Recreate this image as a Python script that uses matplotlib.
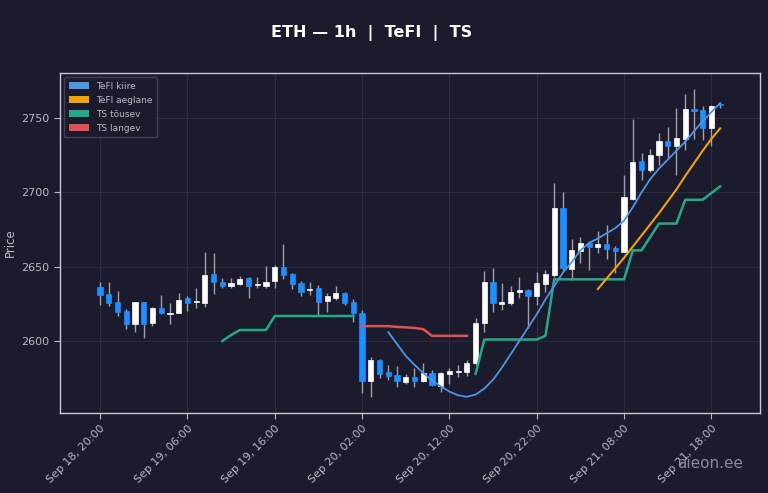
import numpy as np
import matplotlib

matplotlib.use("Agg")
import matplotlib.pyplot as plt
from matplotlib.patches import Patch, Rectangle

# ---------- data: 1h candles, starting Sep 18 20:00 ----------
hour_labels = ["Sep 18, 20:00", "Sep 19, 06:00", "Sep 19, 16:00", "Sep 20, 02:00",
               "Sep 20, 12:00", "Sep 20, 22:00", "Sep 21, 08:00", "Sep 21, 18:00"]
label_idx = [0, 10, 20, 30, 40, 50, 60, 70]

opens = [2636.5, 2631.6, 2626.4, 2620.2, 2611.2, 2626.0, 2611.9, 2622.4, 2618.5, 2619.0,
         2628.7, 2626.0, 2625.8, 2644.9, 2639.9, 2637.0, 2638.4, 2642.2, 2637.5, 2637.2,
         2640.4, 2649.6, 2645.0, 2638.8, 2634.5, 2635.5, 2627.0, 2629.0, 2632.0, 2626.4,
         2618.6, 2573.0, 2587.2, 2579.3, 2577.1, 2572.6, 2576.0, 2573.0, 2578.7, 2569.7,
         2577.8, 2579.1, 2579.3, 2585.0, 2611.9, 2639.9, 2624.9, 2625.4, 2632.8, 2634.3,
         2630.3, 2638.4, 2644.4, 2689.7, 2648.2, 2660.8, 2665.7, 2663.0, 2665.3, 2662.8,
         2660.1, 2695.4, 2721.1, 2715.0, 2725.2, 2734.8, 2731.4, 2735.7, 2756.0, 2755.4,
         2743.1, 2759.0]
closes = [2631.0, 2625.4, 2619.3, 2611.2, 2626.0, 2611.2, 2622.4, 2618.6, 2619.0, 2627.4,
          2625.8, 2626.5, 2644.4, 2639.5, 2637.0, 2638.8, 2641.7, 2637.0, 2638.0, 2639.9,
          2650.0, 2644.4, 2638.2, 2633.2, 2635.0, 2626.4, 2630.3, 2632.0, 2625.8, 2618.6,
          2573.0, 2587.2, 2577.8, 2576.4, 2573.0, 2575.5, 2573.0, 2578.7, 2570.4, 2578.3,
          2579.8, 2580.0, 2585.0, 2612.3, 2639.9, 2625.8, 2626.4, 2633.2, 2634.3, 2630.3,
          2638.8, 2645.1, 2689.7, 2649.0, 2661.2, 2665.7, 2663.0, 2665.3, 2661.7, 2660.8,
          2696.7, 2720.3, 2715.0, 2725.2, 2734.8, 2731.4, 2736.8, 2755.9, 2755.0, 2743.1,
          2758.3, 2758.5]
highs = [2639.7, 2639.5, 2633.6, 2621.5, 2626.5, 2626.5, 2623.0, 2631.0, 2625.8, 2632.3,
         2630.0, 2635.7, 2660.0, 2659.4, 2642.6, 2642.6, 2643.5, 2643.0, 2642.9, 2650.7,
         2651.0, 2665.0, 2646.0, 2640.5, 2639.5, 2637.7, 2632.0, 2637.0, 2633.0, 2628.0,
         2621.0, 2589.4, 2588.0, 2583.8, 2583.2, 2578.0, 2581.6, 2585.0, 2580.5, 2579.4,
         2581.6, 2583.8, 2587.2, 2615.3, 2647.3, 2649.0, 2638.8, 2637.0, 2642.9, 2634.8,
         2646.6, 2647.8, 2706.0, 2700.5, 2668.4, 2670.0, 2667.0, 2674.2, 2678.0, 2664.0,
         2711.7, 2749.0, 2726.3, 2729.0, 2740.2, 2743.8, 2757.0, 2766.0, 2769.4, 2758.0,
         2758.5, 2760.0]
lows = [2624.0, 2623.8, 2616.8, 2607.9, 2606.3, 2602.2, 2610.0, 2618.0, 2611.2, 2618.8,
        2620.0, 2622.0, 2623.0, 2631.6, 2635.9, 2635.5, 2637.7, 2628.7, 2635.5, 2635.5,
        2635.5, 2641.5, 2634.8, 2630.0, 2631.0, 2617.5, 2619.3, 2627.6, 2624.5, 2612.6,
        2564.8, 2562.5, 2575.0, 2573.8, 2568.8, 2571.0, 2569.2, 2572.6, 2569.6, 2566.0,
        2571.0, 2575.5, 2576.4, 2583.8, 2606.3, 2619.7, 2620.9, 2624.0, 2628.7, 2608.5,
        2624.2, 2633.0, 2643.3, 2647.8, 2641.0, 2652.7, 2648.0, 2659.0, 2655.0, 2646.0,
        2660.0, 2695.0, 2708.3, 2714.0, 2718.4, 2723.0, 2711.7, 2728.5, 2735.7, 2735.3,
        2731.4, 2757.0]

# TeFI kiire (fast), from candle 33
tefi_fast_start = 33
tefi_fast = [2606, 2598, 2590, 2584, 2578.5, 2573.5, 2569.5, 2566, 2563.5, 2562.5,
             2564, 2568, 2574, 2582, 2591, 2600, 2609, 2618, 2628, 2637,
             2646, 2653, 2661, 2666, 2669, 2672.5, 2676, 2681, 2690, 2700,
             2709, 2716, 2722, 2728, 2734, 2741, 2748, 2754, 2760]

# TeFI aeglane (slow), from candle 57
tefi_slow_start = 57
tefi_slow = [2635, 2642, 2649, 2656, 2663.5, 2671, 2678.5, 2686, 2694, 2702,
             2711, 2719.5, 2728, 2736, 2743]

# TS tõusev (rising trailing stop), two runs
ts_up1_start = 14
ts_up1 = [2600, 2604, 2607.4, 2607.4, 2607.4, 2607.4, 2616.8, 2616.8, 2616.8, 2616.8,
          2616.8, 2616.8, 2616.8, 2616.8, 2616.8, 2616.8]
ts_up2_start = 43
ts_up2 = [2578, 2601, 2601, 2601, 2601, 2601, 2601, 2601, 2603.5, 2641.5,
          2641.5, 2641.5, 2641.5, 2641.5, 2641.5, 2641.5, 2641.5, 2641.5, 2661, 2661,
          2670, 2679, 2679, 2679, 2695, 2695, 2695, 2699.5, 2704]

# TS langev (falling trailing stop)
ts_down_start = 30
ts_down = [2610, 2610, 2610, 2610, 2609.5, 2609.2, 2608.8, 2608, 2603.5, 2603.5,
           2603.5, 2603.5, 2603.5]

BG = "#1c1b2e"
UP = "#ffffff"
DOWN = "#1e8fff"
WICK = "#a0a0ac"
C_FAST = "#4f95e0"
C_SLOW = "#f0a30a"
C_UP = "#26a98a"
C_DOWN = "#e05252"
TXT = "#b8b8c6"


def main():
    fig = plt.figure(figsize=(7.68, 4.93), dpi=100, facecolor=BG)
    ax = fig.add_axes([0.078, 0.162, 0.912, 0.690], facecolor=BG)

    # ---------- candles ----------
    w = 0.6
    for i, (o, c, h, l) in enumerate(zip(opens, closes, highs, lows)):
        ax.vlines(i, l, h, color=WICK, lw=1.0, zorder=2)
        col = UP if c >= o else DOWN
        bottom = min(o, c)
        height = max(abs(c - o), 0.6)
        ax.add_patch(Rectangle((i - w / 2, bottom), w, height,
                               facecolor=col, edgecolor=col, lw=0.5, zorder=3))

    # ---------- indicators ----------
    def seg(start, vals):
        return np.arange(start, start + len(vals)), vals

    ax.plot(*seg(ts_up1_start, ts_up1), color=C_UP, lw=1.8, zorder=4)
    ax.plot(*seg(ts_up2_start, ts_up2), color=C_UP, lw=1.8, zorder=4)
    ax.plot(*seg(ts_down_start, ts_down), color=C_DOWN, lw=1.8, zorder=4)
    ax.plot(*seg(tefi_slow_start, tefi_slow), color=C_SLOW, lw=1.5, zorder=5)
    ax.plot(*seg(tefi_fast_start, tefi_fast), color=C_FAST, lw=1.3, zorder=5)

    # ---------- axes ----------
    ax.set_xlim(-4.6, 75.6)
    ax.set_ylim(2551.5, 2780.3)
    ax.set_yticks([2600, 2650, 2700, 2750])
    ax.set_xticks(label_idx)
    ax.set_xticklabels(hour_labels, rotation=45, ha="right", rotation_mode="anchor")
    ax.tick_params(colors=TXT, labelsize=8, length=4, width=0.8)
    for lab in ax.get_xticklabels():
        lab.set_color(TXT)
    for lab in ax.get_yticklabels():
        lab.set_color(TXT)
    for sp in ax.spines.values():
        sp.set_color("#c8c8d6")
        sp.set_linewidth(1.0)
    ax.grid(True, color="#34344c", lw=0.6, alpha=0.8)
    ax.set_axisbelow(True)
    ax.set_ylabel("Price", color=TXT, fontsize=8.5, labelpad=3)

    handles = [
        Patch(facecolor=C_FAST, label="TeFI kiire"),
        Patch(facecolor=C_SLOW, label="TeFI aeglane"),
        Patch(facecolor=C_UP, label="TS tõusev"),
        Patch(facecolor=C_DOWN, label="TS langev"),
    ]
    leg = ax.legend(handles=handles, loc="upper left", fontsize=6.5,
                    facecolor=BG, edgecolor="#44445a", framealpha=0.9,
                    handlelength=2.2, handleheight=0.8, borderpad=0.5,
                    labelspacing=0.55)
    for t in leg.get_texts():
        t.set_color(TXT)

    fig.text(371.7 / 768, 1 - 33.3 / 493, "ETH — 1h  |  TeFI  |  TS",
             color="white", fontsize=11.5, fontweight="bold",
             ha="center", va="center")
    fig.text(0.967, 0.06, "aieon.ee", color="#8a8a9c", fontsize=11,
             ha="right", va="center")

    fig.savefig("out.png", dpi=100, facecolor=BG)
    plt.close(fig)


if __name__ == "__main__":
    main()
